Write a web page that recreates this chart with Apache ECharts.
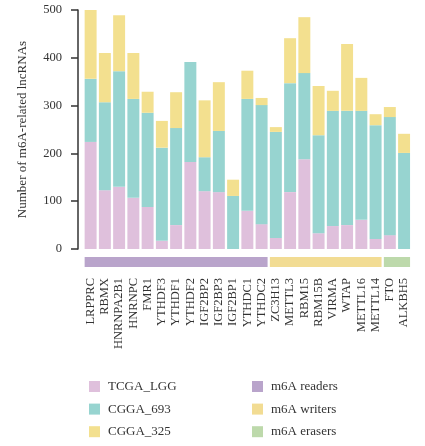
<!DOCTYPE html>
<html>
<head>
<meta charset="utf-8">
<script src="https://cdn.jsdelivr.net/npm/echarts@6/dist/echarts.min.js"></script>
<style>
  html, body { margin: 0; padding: 0; background: #fff; }
  #chart { width: 425px; height: 446px; }
</style>
</head>
<body>
<div id="chart"></div>
<script>
// m6A regulators and the number of related lncRNAs in each cohort
const genes = ['LRPPRC', 'RBMX', 'HNRNPA2B1', 'HNRNPC', 'FMR1', 'YTHDF3', 'YTHDF1', 'YTHDF2',
  'IGF2BP2', 'IGF2BP3', 'IGF2BP1', 'YTHDC1', 'YTHDC2', 'ZC3H13', 'METTL3', 'RBM15', 'RBM15B',
  'VIRMA', 'WTAP', 'METTL16', 'METTL14', 'FTO', 'ALKBH5'];
const tcgaLGG = [224, 123, 130, 107, 88, 17, 50, 182, 121, 119, 0, 80, 52, 23, 119, 188, 33, 48, 50, 61, 21, 29, 0];
const cgga693 = [132, 184, 242, 207, 197, 195, 203, 209, 71, 128, 111, 234, 249, 222, 228, 180, 205, 241, 239, 228, 238, 247, 201];
const cgga325 = [155, 103, 117, 96, 44, 56, 75, 0, 119, 102, 34, 59, 15, 10, 94, 117, 103, 42, 140, 69, 23, 21, 40];

// regulator classes, in gene order
const groupNames = ['m6A readers', 'm6A writers', 'm6A erasers'];
const groupSizes = [13, 8, 2];
const yTicks = [0, 100, 200, 300, 400, 500];

const seriesNames = ['TCGA_LGG', 'CGGA_693', 'CGGA_325'];
const seriesColors = ['#dfc0dc', '#97d4d0', '#f3e08f'];
const groupColors = ['#b9a4cb', '#f2dc93', '#bdd9ab'];

const FONT = 'Liberation Serif';
const BAR_GAP = 0.16;

const chart = echarts.init(document.getElementById('chart'), null, { renderer: 'canvas' });

const barSeries = [tcgaLGG, cgga693, cgga325].map((vals, i) => ({
  name: seriesNames[i],
  type: 'bar',
  stack: 'total',
  xAxisIndex: 0,
  yAxisIndex: 0,
  barCategoryGap: (BAR_GAP * 100) + '%',
  itemStyle: { color: seriesColors[i] },
  color: seriesColors[i],
  emphasis: { disabled: true },
  data: vals
}));

// class strips drawn under the bars, spanning each class's genes
let start = 0;
const groupSeries = groupNames.map((name, i) => {
  const s = start, e = start + groupSizes[i] - 1;
  start += groupSizes[i];
  return {
    name: name,
    type: 'custom',
    xAxisIndex: 1,
    yAxisIndex: 1,
    color: groupColors[i],
    itemStyle: { color: groupColors[i] },
    encode: { x: [0, 1] },
    data: [[s, e]],
    renderItem: function (params, api) {
      const band = api.size([1, 0])[0];
      const w = band * (1 - BAR_GAP);
      const a = api.coord([api.value(0), 1]);
      const b = api.coord([api.value(1), 0]);
      return {
        type: 'rect',
        shape: { x: a[0] - w / 2, y: a[1], width: b[0] - a[0] + w, height: b[1] - a[1] },
        style: { fill: groupColors[i] }
      };
    }
  };
});

const legendText = { fontFamily: FONT, fontSize: 13, color: '#333', padding: [0, 0, 0, 3] };

const option = {
  animation: false,
  backgroundColor: '#fff',
  textStyle: { fontFamily: FONT },
  grid: [
    { left: 83.5, right: 13.8, top: 10, bottom: 197 },
    { left: 83.5, right: 13.8, top: 257, height: 10 }
  ],
  legend: [
    {
      data: seriesNames.map(n => ({ name: n, icon: 'rect' })),
      orient: 'vertical', left: 84, top: 375,
      itemWidth: 11, itemHeight: 11, itemGap: 9.6,
      selectedMode: false,
      textStyle: legendText
    },
    {
      data: groupNames.map(n => ({ name: n, icon: 'rect' })),
      orient: 'vertical', left: 247, top: 375,
      itemWidth: 11, itemHeight: 11, itemGap: 9.6,
      selectedMode: false,
      textStyle: legendText
    }
  ],
  xAxis: [
    {
      type: 'category', gridIndex: 0, data: genes,
      axisLine: { show: false }, axisTick: { show: false },
      axisLabel: { rotate: 90, margin: 29, interval: 0, fontFamily: FONT, fontSize: 12.5, color: '#333' }
    },
    {
      type: 'category', gridIndex: 1, data: genes,
      axisLine: { show: false }, axisTick: { show: false }, axisLabel: { show: false }
    }
  ],
  yAxis: [
    {
      type: 'value', gridIndex: 0, min: yTicks[0], max: yTicks[yTicks.length - 1], interval: 100,
      offset: 5.5,
      name: 'Number of m6A-related lncRNAs', nameLocation: 'middle', nameGap: 49,
      nameTextStyle: { fontFamily: FONT, fontSize: 13, color: '#333' },
      axisLine: { show: true, onZero: false, lineStyle: { color: '#333', width: 1.5 } },
      axisTick: { show: true, length: 7, lineStyle: { color: '#333', width: 1.5 } },
      axisLabel: { fontFamily: FONT, fontSize: 12.5, color: '#333', margin: 16 },
      splitLine: { show: false }
    },
    {
      type: 'value', gridIndex: 1, min: 0, max: 1, show: false
    }
  ],
  series: barSeries.concat(groupSeries)
};

chart.setOption(option);
</script>
</body>
</html>
